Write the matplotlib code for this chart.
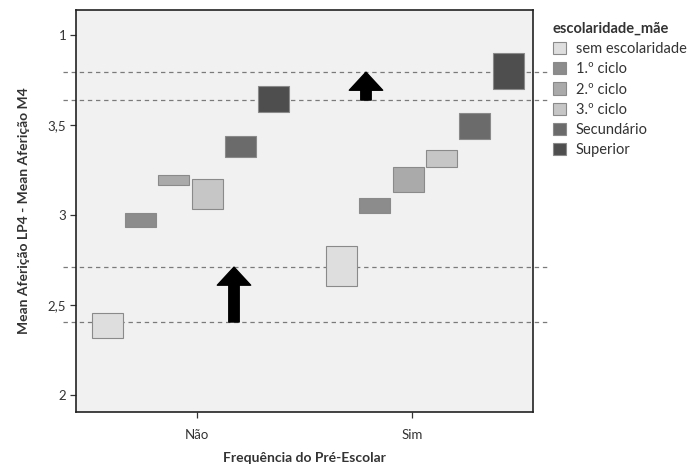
import matplotlib
matplotlib.use("Agg")
import matplotlib.pyplot as plt
import matplotlib.transforms as mtransforms
from matplotlib.patches import Patch, Rectangle

plt.rcParams['font.family'] = ['Lato', 'DejaVu Sans']

# data
groups = ['Não', 'Sim']
levels = ['sem escolaridade', '1.º ciclo', '2.º ciclo', '3.º ciclo', 'Secundário', 'Superior']
colors = ['#dedede', '#8c8c8c', '#aaaaaa', '#c6c6c6', '#6b6b6b', '#4e4e4e']
group_shift = [-0.03, 0.06]

# lower / upper bound of each interval box, per group
low_nao = [2.315, 2.932, 3.167, 3.032, 3.321, 3.574]
high_nao = [2.454, 3.013, 3.221, 3.198, 3.439, 3.718]
low_sim = [2.604, 3.009, 3.128, 3.267, 3.424, 3.702]
high_sim = [2.828, 3.093, 3.268, 3.361, 3.568, 3.902]

ref_lines = [3.794, 3.639, 2.711, 2.406]
# arrows: (x position, start, end)
arrows = [(0.172, 2.406, 2.711), (0.786, 3.639, 3.794)]

yticks = [2, 2.5, 3, 3.5, 4]
ytick_labels = ['2', '2,5', '3', '3,5', '1']

fig = plt.figure(figsize=(6.89, 4.69), dpi=100)
ax = fig.add_axes([0.1103, 0.1215, 0.6633, 0.857])
ax.set_facecolor('#f1f1f1')

# dashed reference lines that run a bit past the frame
trans = mtransforms.blended_transform_factory(ax.transAxes, ax.transData)
for v in ref_lines:
    ax.plot([-0.028, 1.037], [v, v], transform=trans, color='#7a7a7a', lw=0.9,
            ls=(0, (3.5, 3)), clip_on=False, zorder=1)

step = 0.155
width = 0.145
lows = [low_nao, low_sim]
highs = [high_nao, high_sim]
for g in range(len(groups)):
    for i in range(len(levels)):
        xc = g + group_shift[g] + (i - 2.5) * step
        lo = lows[g][i]
        hi = highs[g][i]
        ax.add_patch(Rectangle((xc - width / 2, lo), width, hi - lo,
                               facecolor=colors[i], edgecolor='#8a8a8a', lw=0.8, zorder=3))

for x, y0, y1 in arrows:
    ax.annotate('', xy=(x, y1), xytext=(x, y0),
                arrowprops=dict(arrowstyle='simple,head_length=1.3,head_width=2.4,tail_width=0.75',
                                mutation_scale=10, color='black', shrinkA=0, shrinkB=0),
                zorder=4)

ax.set_xlim(-0.563, 1.563)
ax.set_ylim(1.906, 4.139)
ax.set_xticks([0, 1])
ax.set_xticklabels(groups, fontsize=9.5, color='#333333')
ax.set_yticks(yticks)
ax.set_yticklabels(ytick_labels, fontsize=9.5, color='#333333')
ax.tick_params(direction='out', length=4, width=0.9, color='#333333', pad=3)
ax.tick_params(axis='x', pad=8)

for s in ax.spines.values():
    s.set_color('#222222')
    s.set_linewidth(1.2)

ax.set_xlabel('Frequência do Pré-Escolar', fontsize=10, fontweight='bold',
              color='#333333', labelpad=8)
ax.set_ylabel('Mean Aferição LP4 - Mean Aferição M4', fontsize=10, fontweight='bold',
              color='#333333', labelpad=13)

handles = [Patch(facecolor=c, edgecolor='#8a8a8a', lw=0.8) for c in colors]
leg = ax.legend(handles, levels, title='escolaridade_mãe', loc='upper left',
                bbox_to_anchor=(1.03, 0.985), frameon=False, fontsize=10.5,
                handlelength=0.9, handleheight=0.9, handletextpad=0.7,
                labelspacing=0.42, borderaxespad=0, alignment='left')
leg.get_title().set_fontweight('bold')
leg.get_title().set_fontsize(10.5)
leg.get_title().set_color('#333333')
for t in leg.get_texts():
    t.set_color('#333333')

fig.savefig('out.png', dpi=100)
